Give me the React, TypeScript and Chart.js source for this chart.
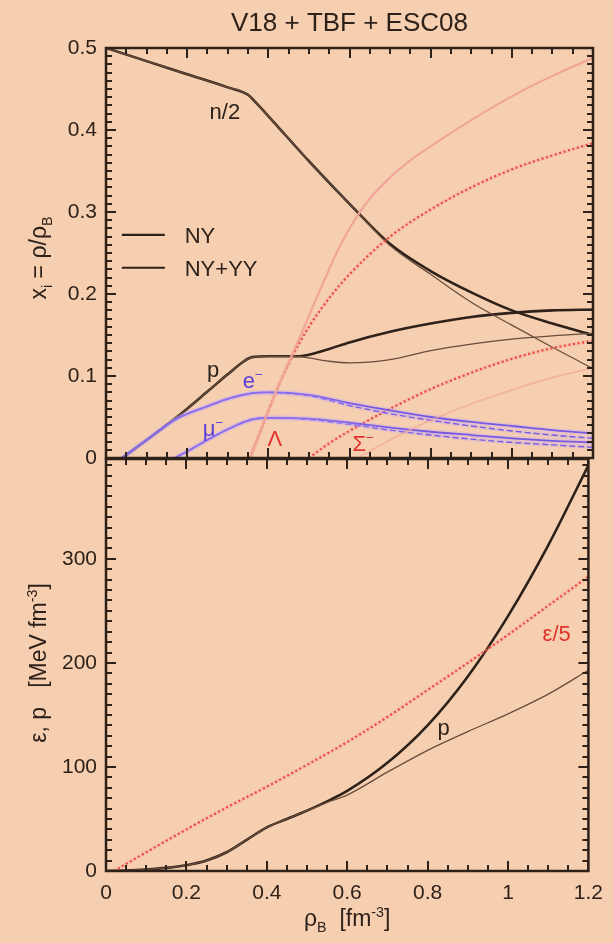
import React, { useEffect, useRef } from "react";
import { Chart, registerables } from "chart.js";
Chart.register(...registerables);

const FONT = '"Liberation Sans", Arial, Helvetica, sans-serif';
const INK = "#2e2119";
const THIN = "#6a4c3a";
const BG = "#f5cfb0";
const BLUE = "#5a3ed8";
const RED = "#e2322b";
const PINK = "#f1a596";

// ---------- axis ticks ----------
const xTicks = [0, 0.2, 0.4, 0.6, 0.8, 1, 1.2];
const xTickLabels = ["0", "0.2", "0.4", "0.6", "0.8", "1", "1.2"];
const yTopTicks = [0, 0.1, 0.2, 0.3, 0.4, 0.5];
const yTopTickLabels = ["0", "0.1", "0.2", "0.3", "0.4", "0.5"];
const yBotTicks = [0, 100, 200, 300];
const yBotTickLabels = ["0", "100", "200", "300"];

// ---------- top panel: particle fractions ----------
const xN = [0, 0.1, 0.2, 0.3, 0.35, 0.37, 0.4, 0.5, 0.6, 0.7, 0.8, 0.9, 1.0, 1.1, 1.2];
const nHalfNY = [0.5, 0.484, 0.468, 0.452, 0.443, 0.433, 0.417, 0.362, 0.31, 0.261, 0.228, 0.202, 0.18, 0.164, 0.15];
const nHalfYY = [0.5, 0.484, 0.468, 0.452, 0.443, 0.433, 0.417, 0.362, 0.31, 0.259, 0.224, 0.19, 0.162, 0.135, 0.109];

const xP = [0.04, 0.1, 0.175, 0.25, 0.3, 0.34, 0.36, 0.4, 0.47, 0.5, 0.55, 0.6, 0.7, 0.8, 0.9, 1.0, 1.1, 1.2];
const pNY = [0, 0.022, 0.05, 0.081, 0.102, 0.118, 0.123, 0.124, 0.124, 0.126, 0.133, 0.141, 0.154, 0.164, 0.172, 0.177, 0.18, 0.181];
const pYY = [0, 0.022, 0.05, 0.081, 0.102, 0.118, 0.123, 0.124, 0.124, 0.122, 0.118, 0.116, 0.12, 0.131, 0.139, 0.145, 0.149, 0.152];

const xE = [0.04, 0.1, 0.175, 0.25, 0.3, 0.36, 0.4, 0.5, 0.6, 0.7, 0.8, 0.9, 1.0, 1.1, 1.2];
const eNY = [0, 0.022, 0.048, 0.063, 0.072, 0.079, 0.08, 0.077, 0.067, 0.058, 0.05, 0.044, 0.039, 0.034, 0.03];
const eYY = [0, 0.022, 0.048, 0.063, 0.072, 0.079, 0.08, 0.076, 0.064, 0.054, 0.046, 0.039, 0.033, 0.028, 0.024];

const xMu = [0.17, 0.2, 0.25, 0.3, 0.36, 0.4, 0.5, 0.6, 0.7, 0.8, 0.9, 1.0, 1.1, 1.2];
const muNY = [0, 0.008, 0.022, 0.035, 0.047, 0.049, 0.048, 0.043, 0.037, 0.032, 0.028, 0.024, 0.021, 0.019];
const muYY = [0, 0.008, 0.022, 0.035, 0.047, 0.049, 0.047, 0.041, 0.034, 0.028, 0.023, 0.019, 0.016, 0.013];

const xLamNY = [0.355, 0.38, 0.42, 0.46, 0.5, 0.55, 0.6, 0.7, 0.8, 0.9, 1.0, 1.1, 1.2];
const lamNY = [0, 0.032, 0.082, 0.125, 0.16, 0.195, 0.224, 0.27, 0.303, 0.33, 0.352, 0.369, 0.384];
const xLamYY = [0.355, 0.38, 0.42, 0.48, 0.53, 0.58, 0.64, 0.7, 0.75, 0.8, 0.9, 1.0, 1.1, 1.2];
const lamYY = [0, 0.032, 0.082, 0.15, 0.208, 0.262, 0.31, 0.342, 0.363, 0.38, 0.412, 0.441, 0.466, 0.488];

const xSigNY = [0.5, 0.55, 0.6, 0.7, 0.8, 0.9, 1.0, 1.1, 1.2];
const sigNY = [0, 0.018, 0.033, 0.06, 0.084, 0.104, 0.121, 0.134, 0.143];
const xSigYY = [0.62, 0.7, 0.8, 0.9, 1.0, 1.1, 1.2];
const sigYY = [0, 0.022, 0.046, 0.066, 0.083, 0.098, 0.11];

// ---------- bottom panel: EOS ----------
const xPr = [0, 0.05, 0.1, 0.15, 0.2, 0.25, 0.3, 0.35, 0.4, 0.45, 0.5, 0.55, 0.6, 0.7, 0.8, 0.9, 1.0, 1.1, 1.2];
const pressNY = [0, 0.5, 1.5, 3, 5.5, 10, 18, 30, 42, 50, 58, 67, 77, 104, 140, 187, 245, 313, 390];
const pressYY = [0, 0.5, 1.5, 3, 5.5, 10, 18, 30, 42, 50, 58, 66, 73, 95, 116, 134, 151, 170, 193];

const xEps = [0.02, 0.1, 0.2, 0.3, 0.4, 0.5, 0.6, 0.7, 0.8, 0.9, 1.0, 1.1, 1.2];
const epsFifth = [0, 18, 40, 61, 81, 102, 124, 148, 174, 200, 227, 255, 283];

// ---------- annotations (data coordinates) ----------
type Part = { t: string; sub?: boolean; sup?: boolean };
const topNotes: { parts: Part[]; x: number; y: number; color: string }[] = [
  { parts: [{ t: "n/2" }], x: 0.293, y: 0.423, color: INK },
  { parts: [{ t: "p" }], x: 0.264, y: 0.108, color: INK },
  { parts: [{ t: "e" }, { t: "−", sup: true }], x: 0.362, y: 0.095, color: BLUE },
  { parts: [{ t: "μ" }, { t: "−", sup: true }], x: 0.264, y: 0.036, color: BLUE },
  { parts: [{ t: "Λ" }], x: 0.416, y: 0.024, color: RED },
  { parts: [{ t: "Σ" }, { t: "−", sup: true }], x: 0.634, y: 0.018, color: RED },
];
const botNotes: { parts: Part[]; x: number; y: number; color: string }[] = [
  { parts: [{ t: "ε/5" }], x: 1.121, y: 229, color: RED },
  { parts: [{ t: "p" }], x: 0.84, y: 138, color: INK },
];
const legendItems = [
  { label: "NY", y: 0.272 },
  { label: "NY+YY", y: 0.232 },
];

const pts = (xs: number[], ys: number[]) => xs.map((x, i) => ({ x, y: ys[i] }));

function ds(xs: number[], ys: number[], color: string, width: number, dash: number[] = []) {
  return {
    data: pts(xs, ys),
    borderColor: color,
    borderWidth: width,
    borderDash: dash,
    pointRadius: 0,
    fill: false,
    cubicInterpolationMode: "monotone",
    borderCapStyle: "butt",
  } as any;
}

function drawRich(ctx: CanvasRenderingContext2D, parts: Part[], x: number, yc: number, size: number, color: string, align: "left" | "center") {
  const small = size * 0.62;
  const widths = parts.map((p) => {
    ctx.font = `${p.sub || p.sup ? small : size}px ${FONT}`;
    return ctx.measureText(p.t).width;
  });
  const total = widths.reduce((a, b) => a + b, 0);
  let cx = align === "center" ? x - total / 2 : x;
  const base = yc + size * 0.36;
  ctx.fillStyle = color;
  ctx.textAlign = "left";
  ctx.textBaseline = "alphabetic";
  parts.forEach((p, i) => {
    ctx.font = `${p.sub || p.sup ? small : size}px ${FONT}`;
    const dy = p.sup ? -size * 0.42 : p.sub ? size * 0.25 : 0;
    ctx.fillText(p.t, cx, base + dy);
    cx += widths[i];
  });
}

function drawFrame(chart: any, yMinor: number, yMajor: number, yMax: number) {
  const { ctx, chartArea: a } = chart;
  const xs = chart.scales.x;
  const ys = chart.scales.y;
  ctx.save();
  ctx.strokeStyle = INK;
  ctx.lineWidth = 2;
  ctx.lineCap = "butt";
  ctx.beginPath();
  for (let k = 0; k <= 24; k++) {
    const v = k * 0.05;
    const len = k % 4 === 0 ? 10 : 6;
    const px = Math.round(xs.getPixelForValue(v));
    ctx.moveTo(px, a.bottom);
    ctx.lineTo(px, a.bottom - len);
    ctx.moveTo(px, a.top);
    ctx.lineTo(px, a.top + len);
  }
  const n = Math.round(yMax / yMinor);
  const per = Math.round(yMajor / yMinor);
  for (let k = 0; k <= n; k++) {
    const v = k * yMinor;
    if (v > yMax + 1e-9) break;
    const len = k % per === 0 ? 10 : 6;
    const py = Math.round(ys.getPixelForValue(v));
    ctx.moveTo(a.left, py);
    ctx.lineTo(a.left + len, py);
    ctx.moveTo(a.right, py);
    ctx.lineTo(a.right - len, py);
  }
  ctx.stroke();
  ctx.lineWidth = 2.5;
  ctx.strokeRect(a.left, a.top, a.right - a.left, a.bottom - a.top);
  ctx.restore();
}

const topPlugin = {
  id: "topDecor",
  afterDatasetsDraw(chart: any) {
    const { ctx, chartArea: a } = chart;
    const xs = chart.scales.x;
    const ys = chart.scales.y;
    drawFrame(chart, 0.01, 0.1, 0.5);
    ctx.save();
    drawRich(ctx, [{ t: "V18 + TBF + ESC08" }], (a.left + a.right) / 2, 22, 26, INK, "center");
    topNotes.forEach((n) => drawRich(ctx, n.parts, xs.getPixelForValue(n.x), ys.getPixelForValue(n.y), 22, n.color, "center"));
    legendItems.forEach((it) => {
      const py = ys.getPixelForValue(it.y);
      ctx.strokeStyle = INK;
      ctx.lineWidth = 2.2;
      ctx.beginPath();
      ctx.moveTo(xs.getPixelForValue(0.039), py);
      ctx.lineTo(xs.getPixelForValue(0.145), py);
      ctx.stroke();
      drawRich(ctx, [{ t: it.label }], xs.getPixelForValue(0.194), py, 22, INK, "left");
    });
    ctx.translate(38, 258);
    ctx.rotate(-Math.PI / 2);
    drawRich(ctx, [{ t: "x" }, { t: "i", sub: true }, { t: " = ρ/ρ" }, { t: "B", sub: true }], 0, 0, 23, INK, "center");
    ctx.restore();
  },
};

const botPlugin = {
  id: "botDecor",
  afterDatasetsDraw(chart: any) {
    const { ctx, chartArea: a } = chart;
    const xs = chart.scales.x;
    const ys = chart.scales.y;
    drawFrame(chart, 10, 100, 396);
    ctx.save();
    botNotes.forEach((n) => drawRich(ctx, n.parts, xs.getPixelForValue(n.x), ys.getPixelForValue(n.y), 22, n.color, "center"));
    drawRich(ctx, [{ t: "ρ" }, { t: "B", sub: true }, { t: "  [fm" }, { t: "-3", sup: true }, { t: "]" }], (a.left + a.right) / 2, 918, 23, INK, "center");
    ctx.translate(38, 663);
    ctx.rotate(-Math.PI / 2);
    drawRich(ctx, [{ t: "ε, p   [MeV fm" }, { t: "-3", sup: true }, { t: "]" }], 0, 0, 23, INK, "center");
    ctx.restore();
  },
};

function yScale(min: number, max: number, ticks: number[], labels: string[]) {
  return {
    type: "linear",
    min,
    max,
    afterFit: (s: any) => {
      s.width = 106;
    },
    afterBuildTicks: (s: any) => {
      s.ticks = ticks.map((v) => ({ value: v }));
    },
    ticks: {
      callback: (_v: any, i: number) => labels[i],
      font: { family: FONT, size: 21 },
      color: INK,
      padding: 9,
    },
    grid: { display: false, drawTicks: false },
    border: { display: false },
  } as any;
}

const HALO_B = "rgba(190,160,255,0.28)";
const HALO_R = "rgba(255,150,140,0.22)";
const DOT = [2, 2.6];

function topConfig(): any {
  return {
    type: "line",
    data: {
      datasets: [
        ds(xLamYY, lamYY, PINK, 2.2),
        ds(xSigYY, sigYY, "rgba(241,165,150,0.7)", 1.6),
        ds(xE, eNY, HALO_B, 5),
        ds(xE, eYY, HALO_B, 4),
        ds(xMu, muNY, HALO_B, 5),
        ds(xMu, muYY, HALO_B, 4),
        ds(xE, eNY, BLUE, 1.8),
        ds(xE, eYY, BLUE, 1.4, [6, 3]),
        ds(xMu, muNY, BLUE, 1.8),
        ds(xMu, muYY, BLUE, 1.4, [6, 3]),
        ds(xLamNY, lamNY, HALO_R, 4),
        ds(xSigNY, sigNY, HALO_R, 4),
        ds(xLamNY, lamNY, RED, 2.2, DOT),
        ds(xSigNY, sigNY, RED, 2.2, DOT),
        ds(xN, nHalfYY, THIN, 1.3),
        ds(xP, pYY, THIN, 1.3),
        ds(xN, nHalfNY, INK, 2.6),
        ds(xP, pNY, INK, 2.6),
      ],
    },
    options: {
      responsive: false,
      animation: false,
      events: [],
      layout: { padding: { left: 0, right: 20, top: 48, bottom: 943 - 458 } },
      plugins: { legend: { display: false }, tooltip: { enabled: false }, title: { display: false } },
      scales: {
        x: { type: "linear", min: 0, max: 1.2, display: false },
        y: yScale(0, 0.5, yTopTicks, yTopTickLabels),
      },
    },
    plugins: [topPlugin],
  };
}

function botConfig(): any {
  return {
    type: "line",
    data: {
      datasets: [
        ds(xEps, epsFifth, HALO_R, 4),
        ds(xEps, epsFifth, RED, 2.2, DOT),
        ds(xPr, pressYY, THIN, 1.3),
        ds(xPr, pressNY, INK, 2.6),
      ],
    },
    options: {
      responsive: false,
      animation: false,
      events: [],
      layout: { padding: { left: 0, right: 20, top: 459, bottom: 12 } },
      plugins: { legend: { display: false }, tooltip: { enabled: false }, title: { display: false } },
      scales: {
        x: {
          type: "linear",
          min: 0,
          max: 1.2,
          position: "bottom",
          afterFit: (s: any) => {
            s.height = 943 - 12 - 871;
          },
          afterBuildTicks: (s: any) => {
            s.ticks = xTicks.map((v) => ({ value: v }));
          },
          ticks: {
            callback: (_v: any, i: number) => xTickLabels[i],
            font: { family: FONT, size: 21 },
            color: INK,
            padding: 10,
            maxRotation: 0,
          },
          grid: { display: false, drawTicks: false },
          border: { display: false },
        },
        y: yScale(0, 396, yBotTicks, yBotTickLabels),
      },
    },
    plugins: [botPlugin],
  };
}

export default function App() {
  const topRef = useRef<HTMLCanvasElement>(null);
  const botRef = useRef<HTMLCanvasElement>(null);
  useEffect(() => {
    const bot = new Chart(botRef.current as HTMLCanvasElement, botConfig());
    const top = new Chart(topRef.current as HTMLCanvasElement, topConfig());
    return () => {
      top.destroy();
      bot.destroy();
    };
  }, []);
  return (
    <div style={{ position: "absolute", left: 0, top: 0, width: 613, height: 943, background: BG, overflow: "hidden" }}>
      <canvas ref={botRef} width={613} height={943} style={{ position: "absolute", left: 0, top: 0 }} />
      <canvas ref={topRef} width={613} height={943} style={{ position: "absolute", left: 0, top: 0 }} />
    </div>
  );
}
